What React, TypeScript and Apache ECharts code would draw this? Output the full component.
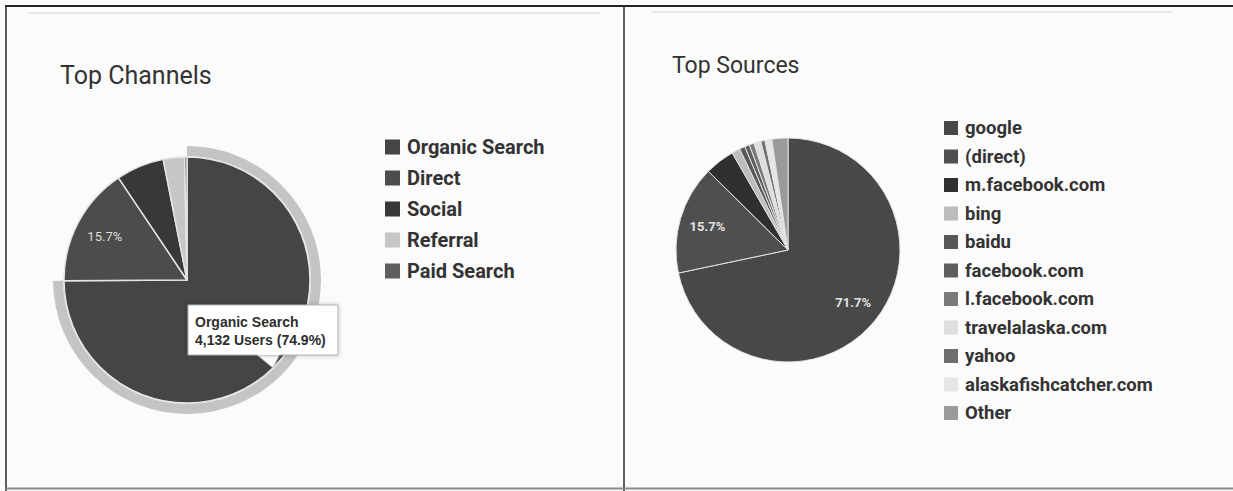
import React, { useEffect, useRef } from 'react';
import * as echarts from 'echarts';

// ---- data ----
const channelNames = ['Organic Search', 'Direct', 'Social', 'Referral', 'Paid Search'];
const channelUsers = [4132, 866, 348, 154, 17];

const sourceNames = [
  'google', '(direct)', 'm.facebook.com', 'bing', 'baidu', 'facebook.com',
  'l.facebook.com', 'travelalaska.com', 'yahoo', 'alaskafishcatcher.com', 'Other',
];
const sourceShares = [71.7, 15.7, 4.3, 1.2, 0.8, 0.7, 0.7, 1.0, 0.6, 1.0, 2.3];

const channelLabelShown = [false, true, false, false, false];
const sourceLabelShown = [true, true, false, false, false, false, false, false, false, false, false];

// ---- styles ----
const channelColors = ['#454545', '#4c4c4c', '#383838', '#c6c6c6', '#5e5e5e'];
const sourceColors = ['#484848', '#4f4f4f', '#2f2f2f', '#bcbcbc', '#585858', '#5e5e5e', '#7a7a7a', '#dedede', '#6e6e6e', '#e6e6e6', '#9a9a9a'];
const FONT = 'Roboto, "Liberation Sans", Arial, sans-serif';

export default function App() {
  const ref = useRef<HTMLDivElement>(null);

  useEffect(() => {
    if (!ref.current) return;
    const chart = echarts.init(ref.current, undefined, { renderer: 'svg' });

    const chTotal = channelUsers.reduce((a, b) => a + b, 0);
    const organicPct = ((channelUsers[0] / chTotal) * 100).toFixed(1);

    const mainData = (names: string[], vals: number[], colors: string[]) =>
      names.map((n, i) => ({ name: n, value: vals[i], itemStyle: { color: colors[i] } }));

    const labelData = (names: string[], vals: number[], shown: boolean[]) =>
      names.map((n, i) => ({
        name: n,
        value: vals[i],
        itemStyle: { color: 'rgba(0,0,0,0)', borderWidth: 0 },
        label: { show: shown[i] },
      }));

    const pieBase = {
      type: 'pie',
      startAngle: 90,
      clockwise: true,
      avoidLabelOverlap: false,
      percentPrecision: 1,
      emphasis: { disabled: true },
      labelLine: { show: false },
    };

    const option: any = {
      animation: false,
      backgroundColor: '#fbfbfb',
      title: [
        {
          text: 'Top Channels',
          left: 55,
          top: 58,
          textStyle: { fontFamily: FONT, fontSize: 25, fontWeight: 'normal', color: '#333' },
        },
        {
          text: 'Top Sources',
          left: 667,
          top: 49,
          textStyle: { fontFamily: FONT, fontSize: 23, fontWeight: 'normal', color: '#333' },
        },
      ],
      legend: [
        {
          data: channelNames,
          orient: 'vertical',
          left: 380,
          top: 132,
          icon: 'rect',
          itemWidth: 15,
          itemHeight: 15,
          itemGap: 11,
          selectedMode: false,
          itemStyle: { borderWidth: 0 },
          textStyle: { fontFamily: FONT, fontSize: 20, fontWeight: 'bold', color: '#333', lineHeight: 20, padding: [0, 0, 0, 2] },
        },
        {
          data: sourceNames,
          orient: 'vertical',
          left: 939,
          top: 113,
          icon: 'rect',
          itemWidth: 14,
          itemHeight: 14,
          itemGap: 8.5,
          selectedMode: false,
          itemStyle: { borderWidth: 0 },
          textStyle: { fontFamily: FONT, fontSize: 18.5, fontWeight: 'bold', color: '#333', lineHeight: 20, padding: [0, 0, 0, 2] },
        },
      ],
      series: [
        {
          ...pieBase,
          name: 'Top Channels',
          center: [187, 280],
          radius: [0, 123],
          label: { show: false },
          itemStyle: { borderColor: '#e4e4e4', borderWidth: 1.5 },
          data: mainData(channelNames, channelUsers, channelColors),
        },
        {
          ...pieBase,
          name: 'Top Sources',
          center: [788, 250],
          radius: [0, 112],
          label: { show: false },
          itemStyle: { borderColor: '#e4e4e4', borderWidth: 1 },
          data: mainData(sourceNames, sourceShares, sourceColors),
        },
        {
          ...pieBase,
          name: 'highlight',
          silent: true,
          legendHoverLink: false,
          center: [187, 280],
          radius: [124, 134],
          label: { show: false },
          data: [
            { value: channelUsers[0], itemStyle: { color: '#c4c4c4' } },
            { value: chTotal - channelUsers[0], itemStyle: { color: 'rgba(0,0,0,0)' } },
          ],
        },
        {
          ...pieBase,
          name: 'channelLabels',
          silent: true,
          legendHoverLink: false,
          center: [187, 280],
          radius: [57, 123],
          label: {
            position: 'inside',
            formatter: (p: any) => `${p.percent.toFixed(1)}%`,
            fontFamily: FONT,
            fontSize: 13,
            color: '#dedede',
          },
          data: labelData(channelNames, channelUsers, channelLabelShown),
        },
        {
          ...pieBase,
          name: 'sourceLabels',
          silent: true,
          legendHoverLink: false,
          center: [788, 250],
          radius: [50, 112],
          label: {
            position: 'inside',
            formatter: (p: any) => `${p.percent.toFixed(1)}%`,
            fontFamily: FONT,
            fontSize: 13,
            fontWeight: 'bold',
            color: '#e2e2e2',
          },
          data: labelData(sourceNames, sourceShares, sourceLabelShown),
        },
      ],
      graphic: [
        // frame
        { type: 'line', shape: { x1: 5, y1: 6, x2: 1233, y2: 6 }, style: { stroke: '#2a2222', lineWidth: 2 }, z: 50 },
        { type: 'line', shape: { x1: 6, y1: 6, x2: 6, y2: 491 }, style: { stroke: '#2a2a2a', lineWidth: 1.5 }, z: 50 },
        { type: 'line', shape: { x1: 624, y1: 6, x2: 624, y2: 491 }, style: { stroke: '#2a2a2a', lineWidth: 1.5 }, z: 50 },
        { type: 'line', shape: { x1: 6, y1: 488.5, x2: 1233, y2: 488.5 }, style: { stroke: '#8a8a8a', lineWidth: 2 }, z: 50 },
        { type: 'line', shape: { x1: 28, y1: 13, x2: 600, y2: 13 }, style: { stroke: '#d4d4d4', lineWidth: 1 }, z: 50 },
        { type: 'line', shape: { x1: 652, y1: 12, x2: 1172, y2: 12 }, style: { stroke: '#d4d4d4', lineWidth: 1 }, z: 50 },
        // tooltip
        {
          type: 'group',
          z: 100,
          children: [
            {
              type: 'polygon',
              shape: { points: [[256, 354], [280, 354], [273, 368]] },
              style: { fill: '#ffffff', stroke: '#b0b0b0', lineWidth: 1 },
              z: 100,
            },
            {
              type: 'rect',
              shape: { x: 188, y: 305, width: 150, height: 50 },
              style: { fill: '#ffffff', stroke: '#b0b0b0', lineWidth: 1, shadowBlur: 4, shadowColor: 'rgba(0,0,0,0.25)' },
              z: 100,
            },
            {
              type: 'rect',
              shape: { x: 257, y: 352, width: 22, height: 3 },
              style: { fill: '#ffffff' },
              z: 101,
            },
            {
              type: 'text',
              x: 195,
              y: 322,
              style: {
                text: channelNames[0],
                fontFamily: '"Liberation Sans", Arial, sans-serif',
                fontSize: 14,
                fontWeight: 'bold',
                fill: '#2e2e2e',
                textVerticalAlign: 'middle',
              },
              z: 102,
            },
            {
              type: 'text',
              x: 195,
              y: 340,
              style: {
                text: `${channelUsers[0].toLocaleString('en-US')} Users (${organicPct}%)`,
                fontFamily: '"Liberation Sans", Arial, sans-serif',
                fontSize: 14,
                fontWeight: 'bold',
                fill: '#2e2e2e',
                textVerticalAlign: 'middle',
              },
              z: 102,
            },
          ],
        },
      ],
    };

    chart.setOption(option);
    return () => chart.dispose();
  }, []);

  return (
    <div
      ref={ref}
      style={{ position: 'absolute', left: 0, top: 0, width: 1233, height: 491 }}
    />
  );
}
